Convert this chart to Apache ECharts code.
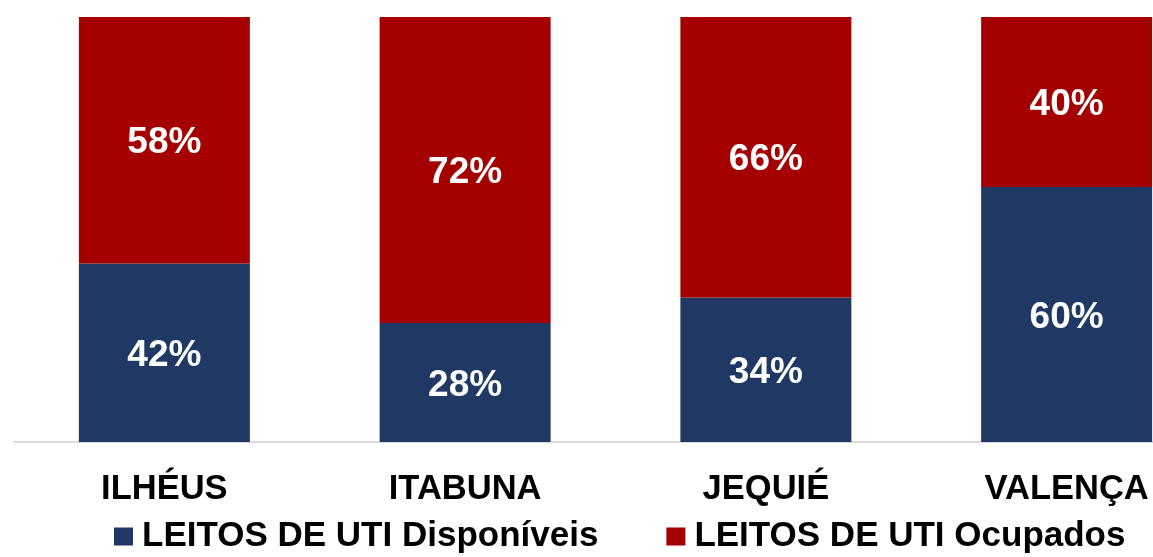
<!DOCTYPE html>
<html>
<head>
    <meta charset="utf-8">
    <title>Leitos de UTI</title>
    <script src="https://cdn.jsdelivr.net/npm/echarts@6/dist/echarts.min.js"></script>
    <style>
        body { margin: 0; background: #fff; overflow: hidden; }
    </style>
</head>
<body>
<!-- mais largo que a janela: o último rótulo fica cortado como no original -->
<div id="chart" style="width: 1230px; height: 557px;"></div>
<script>
    // dados
    var cidades = ['ILHÉUS', 'ITABUNA', 'JEQUIÉ', 'VALENÇA'];
    var disponiveis = [42, 28, 34, 60];
    var ocupados = [58, 72, 66, 40];
    var nomesSeries = ['LEITOS DE UTI Disponíveis', 'LEITOS DE UTI Ocupados'];

    var chart = echarts.init(document.getElementById('chart'));

    var fonte = 'Liberation Sans, Arial, sans-serif';

    var rotulo = {
        show: true,
        position: 'inside',
        offset: [0, 3],
        color: '#fff',
        fontFamily: fonte,
        fontWeight: 'bold',
        fontSize: 37,
        formatter: '{c}%'
    };

    chart.setOption({
        animation: false,
        grid: { left: 14, top: 17, width: 1203, bottom: 115 },
        legend: {
            bottom: -2,
            left: 109,
            itemWidth: 19,
            itemHeight: 18,
            itemGap: 68,
            icon: 'rect',
            textStyle: {
                fontFamily: fonte,
                fontWeight: 'bold',
                fontSize: 35,
                color: '#000',
                padding: [0, 0, 0, 4]
            },
            data: nomesSeries
        },
        xAxis: {
            type: 'category',
            data: cidades,
            axisLine: { lineStyle: { color: '#d9d9d9', width: 2 } },
            axisTick: { show: false },
            axisLabel: {
                margin: 30,
                color: '#000',
                fontFamily: fonte,
                fontWeight: 'bold',
                fontSize: 34.5
            }
        },
        yAxis: {
            type: 'value',
            min: 0,
            max: 100,
            show: false,
            splitLine: { show: false }
        },
        series: [
            {
                name: nomesSeries[0],
                type: 'bar',
                stack: 'total',
                barWidth: 171,
                data: disponiveis,
                itemStyle: { color: '#203864' },
                label: rotulo
            },
            {
                name: nomesSeries[1],
                type: 'bar',
                stack: 'total',
                barWidth: 171,
                data: ocupados,
                itemStyle: { color: '#a50000' },
                label: rotulo
            }
        ]
    });
</script>
</body>
</html>
